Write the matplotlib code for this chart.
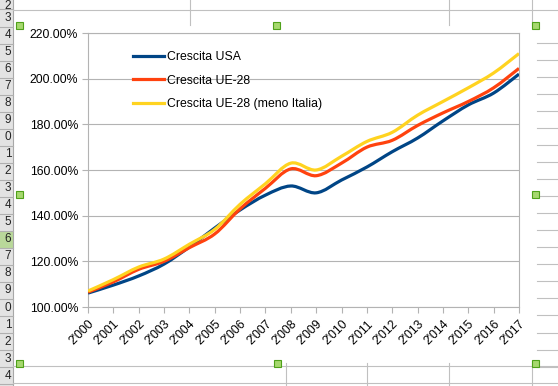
import numpy as np
import matplotlib
matplotlib.use('Agg')
import matplotlib.pyplot as plt
from matplotlib.path import Path
from matplotlib.patches import PathPatch, Rectangle
from matplotlib.lines import Line2D

plt.rcParams['font.family'] = ['Liberation Sans', 'DejaVu Sans']

years = list(range(2000, 2018))
year_labels = ["2'000", "2'001", "2'002", "2'003", "2'004", "2'005", "2'006", "2'007", "2'008",
               "2'009", "2'010", "2'011", "2'012", "2'013", "2'014", "2'015", "2'016", "2'017"]

usa = [106.1, 109.6, 113.6, 118.8, 126.3, 134.6, 142.5, 149.0, 153.0,
       150.0, 155.6, 161.3, 168.0, 174.0, 181.5, 188.5, 193.7, 202.0]
ue28 = [106.5, 111.0, 116.5, 120.0, 126.0, 132.0, 143.0, 152.0, 160.5,
        157.5, 163.0, 170.0, 173.0, 179.5, 185.0, 190.0, 196.0, 204.5]
ue28_no_it = [107.0, 112.0, 117.5, 121.0, 127.5, 134.0, 145.0, 154.0, 163.0,
              160.0, 166.0, 172.5, 176.5, 184.0, 190.0, 196.0, 202.5, 211.0]

series_names = ['Crescita USA', 'Crescita UE-28', 'Crescita UE-28 (meno Italia)']
series_colors = ['#004586', '#ff420e', '#ffd320']

y_ticks = [100, 120, 140, 160, 180, 200, 220]
row_numbers = list(range(2, 25))

W, H = 558, 386
fig = plt.figure(figsize=(W / 100, H / 100), dpi=100)

# spreadsheet background, drawn in pixel coordinates
bg = fig.add_axes([0, 0, 1, 1])
bg.set_xlim(0, W)
bg.set_ylim(H, 0)
bg.axis('off')
cell_line = '#c0c0c0'
bg.add_patch(Rectangle((0, 0), 13, H, color='#e3e3e3', lw=0))
bg.plot([13, 13], [0, H], color='#a8a8a8', lw=0.8)
for n in row_numbers:
    yc = 18 + (n - 3) * 17.03
    if n == 16:
        bg.add_patch(Rectangle((0, yc - 8.5), 13, 17, color='#b9d89a', lw=0))
    bg.plot([0, 13], [yc + 8.5, yc + 8.5], color='#b0b0b0', lw=0.8)
    if n == 2:
        # first row is cut by the window edge
        bg.text(8, 0, str(n % 10), ha='center', va='top', fontsize=8.5, color='#222222')
    else:
        bg.text(8, yc, str(n % 10), ha='center', va='center', fontsize=8.5, color='#222222')
# cells outside the chart
bg.plot([13, W], [9.5, 9.5], color=cell_line, lw=0.8)
for xv in [190, 449, 532]:
    bg.plot([xv, xv], [0, 25], color=cell_line, lw=0.8)
for yv in np.arange(43, 370, 17.03):
    bg.plot([537, W], [yv, yv], color=cell_line, lw=0.8)
bg.plot([13, W], [365.5, 365.5], color=cell_line, lw=0.8)
bg.plot([13, W], [382.5, 382.5], color=cell_line, lw=0.8)
for xv in [286, 367, 449, 532]:
    bg.plot([xv, xv], [363, H], color=cell_line, lw=0.8)
# selection handles
for hx, hy in [(19, 25), (276, 25), (535, 25), (19, 194), (535, 194), (19, 363), (277, 363), (535, 363)]:
    bg.add_patch(Rectangle((hx - 3.5, hy - 3.5), 7, 7, facecolor='#a6d86e', edgecolor='#4fa11a', lw=0.8, zorder=5))

# chart
left, right, top, bottom = 88, 519, 33, 307
ax = fig.add_axes([left / W, 1 - bottom / H, (right - left) / W, (bottom - top) / H])
ax.set_facecolor('none')


def smooth_path(xs, ys):
    # Catmull-Rom segments as cubic bezier curves
    xs = np.asarray(xs, float)
    ys = np.asarray(ys, float)
    pts = np.column_stack([xs, ys])
    verts = [pts[0]]
    codes = [Path.MOVETO]
    n = len(pts)
    for i in range(n - 1):
        p0 = pts[max(i - 1, 0)]
        p1 = pts[i]
        p2 = pts[i + 1]
        p3 = pts[min(i + 2, n - 1)]
        c1 = p1 + (p2 - p0) / 6
        c2 = p2 - (p3 - p1) / 6
        verts += [c1, c2, p2]
        codes += [Path.CURVE4] * 3
    return Path(verts, codes)


handles = []
for vals, name, col in zip([usa, ue28, ue28_no_it], series_names, series_colors):
    ax.add_patch(PathPatch(smooth_path(years, vals), facecolor='none', edgecolor=col,
                           lw=2.3, capstyle='butt', joinstyle='round', zorder=3))
    handles.append(Line2D([], [], color=col, lw=2.3, label=name))

ax.set_xlim(2000, 2017)
ax.set_ylim(100, 220)
ax.set_yticks(y_ticks)
ax.set_yticklabels(['%.2f%%' % v for v in y_ticks])
ax.set_xticks(years)
ax.set_xticklabels(year_labels, rotation=45, ha='right', va='top', rotation_mode='anchor')

ax.grid(axis='y', color='#b3b3b3', lw=0.8)
ax.set_axisbelow(True)
for s in ax.spines.values():
    s.set_color('#b3b3b3')
    s.set_linewidth(0.8)
ax.tick_params(axis='both', colors='#b3b3b3', labelcolor='black', labelsize=8.8,
               length=4, width=0.8)
ax.tick_params(axis='y', pad=3)
ax.tick_params(axis='x', pad=4)

ax.legend(handles=handles, loc='upper left', bbox_to_anchor=((133 - left) / (right - left), (bottom - 51) / (bottom - top)),
          frameon=False, fontsize=8.8, borderaxespad=0, borderpad=0, handlelength=2.5,
          handletextpad=0.25, labelspacing=0.95)

fig.savefig('out.png', dpi=100)
